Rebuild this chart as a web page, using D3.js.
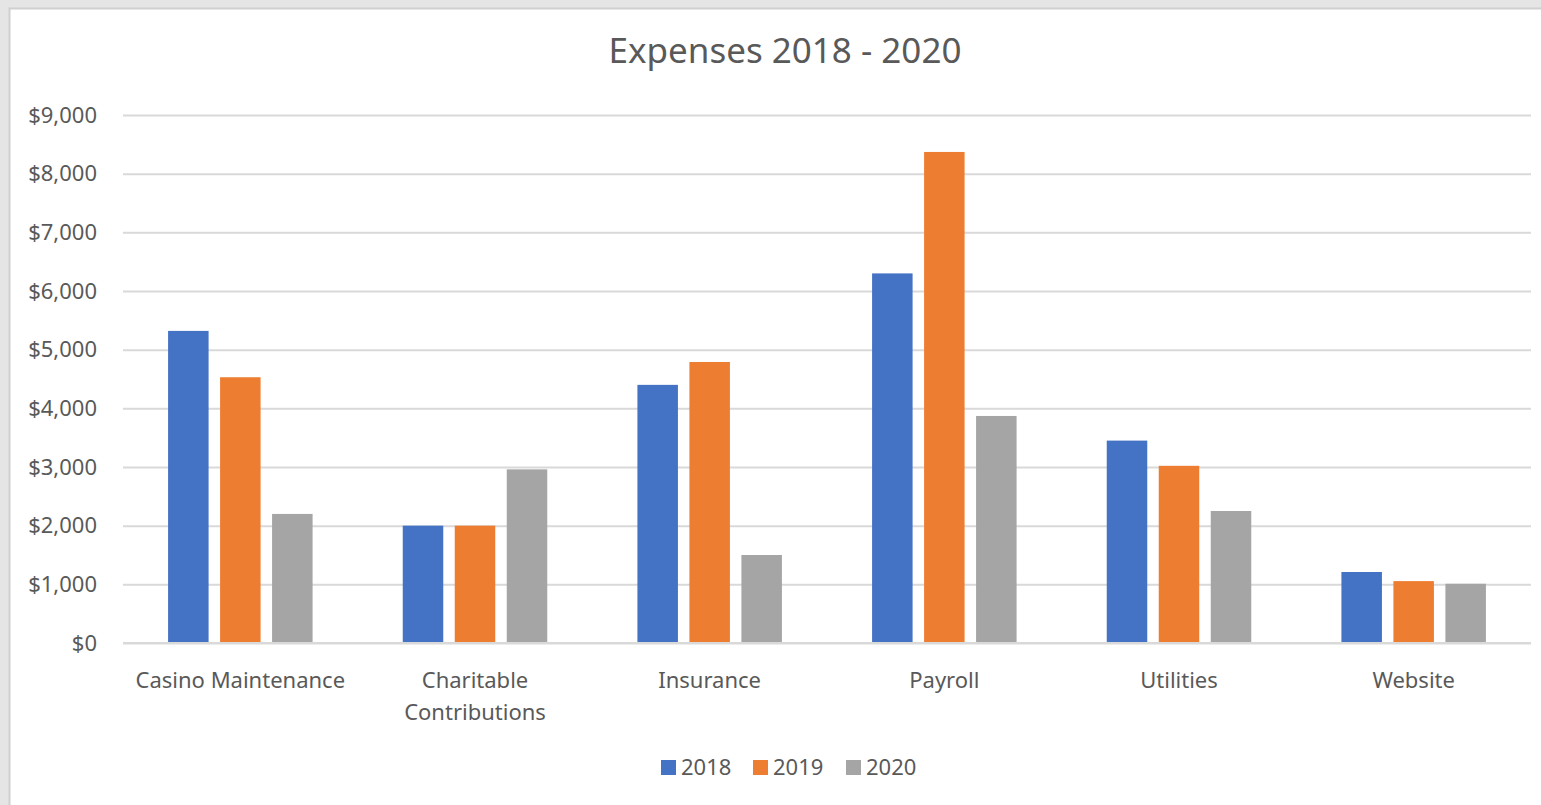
<!DOCTYPE html>
<html>
<head>
<meta charset="utf-8">
<script src="https://cdn.jsdelivr.net/npm/d3@7"></script>
<style>
    html, body { margin: 0; padding: 0; background: #e5e5e5; overflow: hidden; }
    svg { display: block; }
    text { font-family: "Noto Sans", "Open Sans", sans-serif; fill: #595959; }
</style>
</head>
<body>
<svg id="chart"></svg>
<script>
// Chart data
const categories = ['Casino Maintenance', 'Charitable Contributions', 'Insurance', 'Payroll', 'Utilities', 'Website'];
const series = ['2018', '2019', '2020'];
const values2018 = [5320, 2000, 4400, 6300, 3450, 1210];
const values2019 = [4530, 2000, 4790, 8370, 3020, 1055];
const values2020 = [2200, 2960, 1500, 3870, 2250, 1010];
const yTicks = [0, 1000, 2000, 3000, 4000, 5000, 6000, 7000, 8000, 9000];
const colors = ['#4472C4', '#ED7D31', '#A5A5A5'];

const width = 1541, height = 805;
const margin = { top: 115, right: 10, bottom: 162, left: 123 };

const svg = d3.select('#chart').attr('width', width).attr('height', height);

// Chart panel with its border
svg.append('rect')
    .attr('x', 9.5).attr('y', 8.5)
    .attr('width', width).attr('height', height)
    .attr('fill', '#fff')
    .attr('stroke', '#d0d0d0')
    .attr('stroke-width', 2);

const x0 = d3.scaleBand()
    .domain(categories)
    .range([margin.left, width - margin.right]);

const x1 = d3.scaleBand()
    .domain(series)
    .range([0, 144.5])
    .paddingInner(0.221);

const y = d3.scaleLinear()
    .domain([0, 9000])
    .range([height - margin.bottom, margin.top]);

// Gridlines
svg.append('g')
    .attr('transform', `translate(${margin.left},0)`)
    .call(d3.axisLeft(y).tickValues(yTicks).tickSize(-(width - margin.left - margin.right)).tickFormat(''))
    .call(g => g.select('.domain').remove())
    .call(g => g.selectAll('line').attr('stroke', '#d9d9d9').attr('stroke-width', 2));

// Y axis labels
svg.append('g')
    .attr('transform', `translate(97,0)`)
    .call(d3.axisLeft(y).tickValues(yTicks).tickSize(0).tickPadding(0).tickFormat(d3.format('$,')))
    .call(g => g.select('.domain').remove())
    .call(g => g.selectAll('text').attr('font-size', '22px').attr('fill', '#595959').attr('font-family', '"Noto Sans", sans-serif'));

// Bars
const rows = categories.map((c, i) => ({
    category: c,
    values: [values2018[i], values2019[i], values2020[i]]
}));

const groups = svg.append('g')
    .selectAll('g')
    .data(rows)
    .enter()
    .append('g')
    .attr('transform', d => `translate(${x0(d.category) + x0.bandwidth() / 2 - 72.25},0)`);

groups.selectAll('rect')
    .data(d => d.values.map((v, i) => ({ key: series[i], value: v, i })))
    .enter()
    .append('rect')
    .attr('x', d => x1(d.key))
    .attr('width', x1.bandwidth())
    .attr('y', d => y(d.value))
    .attr('height', d => y(0) - y(d.value))
    .attr('fill', d => colors[d.i]);

// Zero axis line
svg.append('line')
    .attr('x1', margin.left).attr('x2', width - margin.right)
    .attr('y1', y(0)).attr('y2', y(0))
    .attr('stroke', '#d9d9d9').attr('stroke-width', 2);

// Category labels, wrapped the way Excel does
const wrapAt = { 'Charitable Contributions': ['Charitable', 'Contributions'] };
svg.append('g')
    .selectAll('text')
    .data(categories)
    .enter()
    .append('text')
    .attr('text-anchor', 'middle')
    .attr('font-size', '22px')
    .attr('x', d => x0(d) + x0.bandwidth() / 2)
    .attr('y', 688)
    .each(function(d) {
        const lines = wrapAt[d] || [d];
        const t = d3.select(this);
        lines.forEach((line, i) => {
            t.append('tspan')
                .attr('x', x0(d) + x0.bandwidth() / 2)
                .attr('dy', i === 0 ? 0 : 32)
                .text(line);
        });
    });

// Title
svg.append('text')
    .attr('x', 785)
    .attr('y', 63)
    .attr('text-anchor', 'middle')
    .attr('font-size', '35px')
    .text('Expenses 2018 - 2020');

// Legend
const legendX = [661, 753, 846];
const legend = svg.append('g')
    .selectAll('g')
    .data(series)
    .enter()
    .append('g')
    .attr('transform', (d, i) => `translate(${legendX[i]},760)`);

legend.append('rect')
    .attr('width', 15).attr('height', 15)
    .attr('fill', (d, i) => colors[i]);

legend.append('text')
    .attr('x', 20)
    .attr('y', 15)
    .attr('font-size', '22px')
    .text(d => d);
</script>
</body>
</html>
